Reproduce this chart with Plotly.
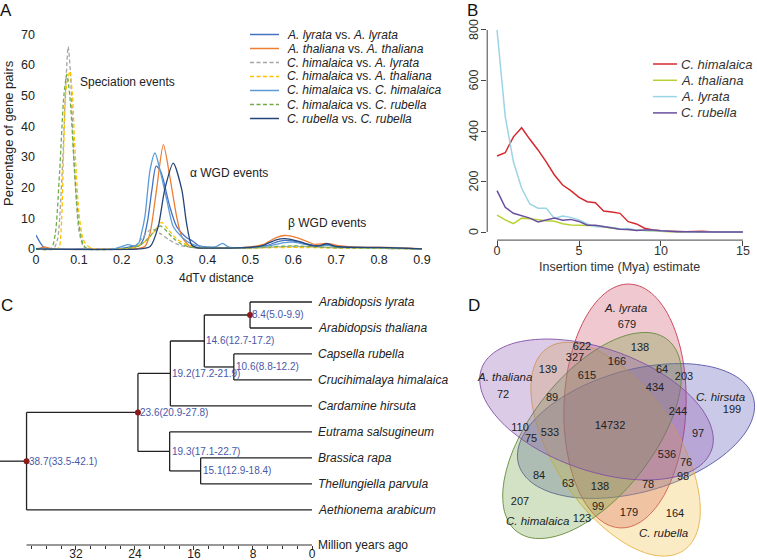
import numpy as np
import plotly.graph_objects as go

W, H = 757, 560
FONT = "Liberation Sans, Arial, sans-serif"

# ---------------- Panel A: 4dTv distributions ----------------
a_names = ["<i>A. lyrata</i> vs. <i>A. lyrata</i>",
           "<i>A. thaliana</i> vs. <i>A. thaliana</i>",
           "<i>C. himalaica</i> vs. <i>A. lyrata</i>",
           "<i>C. himalaica</i> vs. <i>A. thaliana</i>",
           "<i>C. himalaica</i> vs. <i>C. himalaica</i>",
           "<i>C. himalaica</i> vs. <i>C. rubella</i>",
           "<i>C. rubella</i> vs. <i>C. rubella</i>"]
a_colors = ["#4472C4", "#ED7D31", "#A5A5A5", "#FFC000", "#5B9BD5", "#70AD47", "#264478"]
a_dash = ["solid", "solid", "dash", "dash", "solid", "dash", "solid"]

lyr_x = [0, 0.01, 0.02, 0.03, 0.1, 0.2, 0.225, 0.24, 0.25, 0.26, 0.27, 0.28, 0.29, 0.297, 0.312, 0.328,
         0.35, 0.365, 0.38, 0.4, 0.45, 0.5, 0.54, 0.56, 0.58, 0.6, 0.62, 0.65, 0.68, 0.7, 0.75, 0.8, 0.85, 0.9]
lyr_y = [4.5, 2.0, 0.3, 0, 0, 0.2, 0.8, 1.0, 3, 9, 19, 27, 25.5, 22.5, 13.8, 7.3,
         3.8, 2.6, 1.0, 0.6, 0.4, 0.6, 1.2, 2.2, 2.8, 2.6, 2.0, 1.2, 1.3, 0.8, 0.5, 0.4, 0.3, 0]

tha_x = [0, 0.01, 0.02, 0.03, 0.04, 0.2, 0.24, 0.254, 0.266, 0.281, 0.297, 0.312, 0.328, 0.34, 0.359, 0.38,
         0.45, 0.5, 0.53, 0.56, 0.58, 0.608, 0.631, 0.65, 0.678, 0.71, 0.75, 0.8, 0.85, 0.9]
tha_y = [0, 0.3, 0.7, 0.3, 0, 0, 0.2, 0.8, 5.2, 19.3, 34, 23.6, 10.5, 4, 0.8, 0.3,
         0.3, 0.7, 1.5, 3.7, 4.4, 3.7, 2.5, 1.5, 1.8, 1.0, 0.6, 0.5, 0.4, 0]

him_lyr_x = [0, 0.04, 0.05, 0.06, 0.07, 0.075, 0.08, 0.09, 0.1, 0.11, 0.12, 0.2, 0.23, 0.25, 0.27, 0.29,
             0.31, 0.33, 0.36, 0.4, 0.5, 0.6, 0.7, 0.8, 0.9]
him_lyr_y = [0, 0, 3, 22, 55, 66, 58, 25, 6, 1, 0, 0, 0.8, 4, 6.5, 5,
             3, 1.5, 0.5, 0.3, 0.3, 0.8, 0.4, 0.2, 0]

him_tha_x = [0, 0.05, 0.055, 0.06, 0.065, 0.07, 0.079, 0.085, 0.09, 0.1, 0.11, 0.12, 0.13, 0.14, 0.2, 0.23,
             0.26, 0.28, 0.293, 0.31, 0.33, 0.35, 0.37, 0.4, 0.5, 0.6, 0.7, 0.8, 0.9]
him_tha_y = [0, 0, 1, 10, 35, 52, 58, 50, 35, 12, 3, 1, 0.3, 0, 0, 0.5,
             3, 6.5, 8.7, 6, 3, 1.5, 0.6, 0.3, 0.3, 0.5, 0.3, 0.2, 0]

him_him_x = [0, 0.18, 0.2, 0.215, 0.23, 0.24, 0.245, 0.254, 0.266, 0.2775, 0.289, 0.305, 0.32, 0.343, 0.36,
             0.38, 0.4, 0.42, 0.435, 0.45, 0.5, 0.55, 0.575, 0.6, 0.63, 0.66, 0.68, 0.7, 0.75, 0.8, 0.85, 0.9]
him_him_y = [0, 0, 0.8, 1.4, 1.0, 2.0, 4.5, 10.6, 25.8, 31.3, 25.8, 16, 7.3, 3.5, 1.8,
             0.9, 0.6, 0.8, 1.8, 0.6, 0.5, 1.2, 2.0, 2.2, 1.4, 0.9, 1.2, 0.7, 0.5, 0.4, 0.3, 0]

him_rub_x = [0, 0.035, 0.045, 0.055, 0.065, 0.072, 0.08, 0.09, 0.1, 0.11, 0.12, 0.2, 0.24, 0.265, 0.28,
             0.29, 0.3, 0.32, 0.34, 0.36, 0.4, 0.5, 0.55, 0.6, 0.65, 0.7, 0.8, 0.9]
him_rub_y = [0, 0, 5, 25, 50, 57, 48, 25, 8, 1.5, 0, 0, 1, 4, 6.5,
             7.5, 6.5, 3.5, 1.5, 0.6, 0.3, 0.3, 0.7, 1.0, 0.7, 0.4, 0.2, 0]

rub_x = [0, 0.24, 0.266, 0.285, 0.30, 0.32, 0.34, 0.351, 0.363, 0.38, 0.4, 0.45, 0.5, 0.53, 0.56, 0.58,
         0.615, 0.64, 0.66, 0.678, 0.7, 0.75, 0.8, 0.85, 0.9]
rub_y = [0, 0, 0.8, 7.3, 19.3, 28, 19.3, 8.4, 1.3, 0.3, 0.3, 0.3, 0.5, 1.2, 3.0, 3.4,
         2.4, 1.2, 1.0, 1.7, 0.8, 0.5, 0.5, 0.3, 0]

a_series = [(lyr_x, lyr_y), (tha_x, tha_y), (him_lyr_x, him_lyr_y), (him_tha_x, him_tha_y),
            (him_him_x, him_him_y), (him_rub_x, him_rub_y), (rub_x, rub_y)]
a_xticks = [0, 0.1, 0.2, 0.3, 0.4, 0.5, 0.6, 0.7, 0.8, 0.9]
a_xticktext = ["0", "0.1", "0.2", "0.3", "0.4", "0.5", "0.6", "0.7", "0.8", "0.9"]

# ---------------- Panel B: LTR insertion time ----------------
b_names = ["C. himalaica", "A. thaliana", "A. lyrata", "C. rubella"]
b_colors = ["#D42A2E", "#B8D236", "#9BD4E6", "#6A4E9E"]
b_x = [i * 0.5 for i in range(31)]
b_him = [301, 314, 377, 413, 367, 325, 278, 226, 186, 164, 137, 120, 116, 83, 79, 74, 41, 32, 15, 8,
         5, 3, 1, 1, 2, 3, 1, 0, 0, 0, 0]
b_tha = [67, 48, 33, 55, 53, 48, 45, 43, 33, 28, 28, 26, 25, 20, 15, 12, 10, 8, 6, 3,
         2, 1, 1, 0, 0, 0, 0, 0, 0, 0, 0]
b_lyr = [800, 457, 278, 173, 111, 94, 94, 54, 63, 58, 48, 32, 21, 22, 18, 12, 14, 8, 6, 5,
         3, 1, 1, 0, 0, 0, 0, 0, 0, 0, 0]
b_rub = [164, 98, 74, 63, 55, 40, 48, 55, 47, 50, 42, 27, 27, 22, 15, 11, 10, 6, 8, 8,
         5, 2, 1, 1, 0, 0, 0, 0, 0, 0, 0]
b_series = [b_him, b_tha, b_lyr, b_rub]
b_yticks = [0, 200, 400, 600, 800]

# ---------------- Panel C: dated tree ----------------
tips = ["Arabidopsis lyrata", "Arabidopsis thaliana", "Capsella rubella", "Crucihimalaya himalaica",
        "Cardamine hirsuta", "Eutrama salsugineum", "Brassica rapa", "Thellungiella parvula",
        "Aethionema arabicum"]
# node: (age, label, children, dot); children are tip indices or node keys
nodes = {
    "n1": (8.4, "8.4(5.0-9.9)", [0, 1], True),
    "n2": (10.6, "10.6(8.8-12.2)", [2, 3], False),
    "n3": (14.6, "14.6(12.7-17.2)", ["n1", "n2"], False),
    "n4": (19.2, "19.2(17.2-21.9)", ["n3", 4], False),
    "n5": (15.1, "15.1(12.9-18.4)", [6, 7], False),
    "n6": (19.3, "19.3(17.1-22.7)", [5, "n5"], False),
    "n7": (23.6, "23.6(20.9-27.8)", ["n4", "n6"], True),
    "n8": (38.7, "38.7(33.5-42.1)", ["n7", 8], True),
}
c_major = [0, 8, 16, 24, 32]
c_minor = [2, 4, 6, 10, 12, 14, 18, 20, 22, 26, 28, 30, 34, 36, 38]
c_axis_max = 42.3

# ---------------- Panel D: Venn ----------------
venn_sets = ["A. lyrata", "C. hirsuta", "C. rubella", "C. himalaica", "A. thaliana"]
venn_counts = [679, 622, 138, 327, 166, 139, 615, 64, 203, 434, 72, 89, 244, 199, 14732, 110, 533, 75,
               97, 536, 76, 98, 84, 63, 138, 78, 207, 123, 99, 179, 164]

# ---------- layout helpers (pixel -> paper) ----------
def PX(p):
    return p / W

def PY(p):
    return 1 - p / H

fig = go.Figure()

# Panel A traces
for (xs, ys), c, d, n in zip(a_series, a_colors, a_dash, a_names):
    fig.add_trace(go.Scatter(x=xs, y=ys, mode="lines", name=n, xaxis="x", yaxis="y",
                             line=dict(color=c, width=1.3, dash="4px,2.5px" if d == "dash" else "solid",
                                       shape="spline", smoothing=0.7),
                             hoverinfo="skip"))

# Panel B traces
for ys, c, n in zip(b_series, b_colors, b_names):
    fig.add_trace(go.Scatter(x=b_x, y=ys, mode="lines", name=n, xaxis="x2", yaxis="y2",
                             line=dict(color=c, width=1.5), hoverinfo="skip"))

# Panel C tree
def node_y(k):
    if isinstance(k, int):
        return float(k)
    kids = nodes[k][2]
    return (node_y(kids[0]) + node_y(kids[-1])) / 2

def node_age(k):
    return 0.0 if isinstance(k, int) else nodes[k][0]

tx, ty = [], []
for k, (age, lab, kids, dot) in nodes.items():
    ys = [node_y(c) for c in kids]
    tx += [age, age, None]
    ty += [min(ys), max(ys), None]
    for c in kids:
        tx += [age, node_age(c), None]
        ty += [node_y(c), node_y(c), None]
root_y = node_y("n8")
tx += [c_axis_max, nodes["n8"][0]]
ty += [root_y, root_y]
fig.add_trace(go.Scatter(x=tx, y=ty, mode="lines", xaxis="x3", yaxis="y3",
                         line=dict(color="#222222", width=1.3), hoverinfo="skip"))
dot_keys = [k for k in nodes if nodes[k][3]]
fig.add_trace(go.Scatter(x=[nodes[k][0] for k in dot_keys], y=[node_y(k) for k in dot_keys],
                         mode="markers", xaxis="x3", yaxis="y3",
                         marker=dict(color="#8B1A1A", size=6), hoverinfo="skip"))

# Panel D: count positions (pixel space of the venn axes)
venn_pos = [(627, 325), (582, 347), (640, 348), (575, 358), (617, 362), (548, 370), (587, 376),
            (662, 370), (684, 377), (655, 388), (503, 395), (552, 398), (678, 412), (732, 410),
            (610, 426), (520, 428), (550, 433), (531, 439), (698, 434), (667, 455), (686, 463),
            (683, 477), (539, 476), (568, 484), (600, 487), (648, 485), (520, 502), (582, 519),
            (598, 507), (629, 513), (675, 514)]
fig.add_trace(go.Scatter(x=[p[0] for p in venn_pos], y=[p[1] for p in venn_pos], mode="text",
                         text=[str(v) for v in venn_counts], xaxis="x4", yaxis="y4",
                         textfont=dict(size=11, color="#222222", family=FONT), hoverinfo="skip"))

# ellipses: centre x, centre y, major-axis angle (deg), fill, edge
ell = [
    (625.0, 406.0, 87.8, "rgba(205,72,95,0.30)", "rgba(200,60,80,0.9)"),
    (636.0, 431.0, 15.8, "rgba(80,80,180,0.30)", "rgba(85,85,170,0.9)"),
    (615.6, 449.2, -56.2, "rgba(242,188,62,0.30)", "rgba(230,180,70,0.9)"),
    (592.1, 435.5, -128.2, "rgba(110,160,60,0.30)", "rgba(100,140,60,0.9)"),
    (596.5, 409.5, 160.5, "rgba(138,82,172,0.30)", "rgba(130,80,165,0.9)"),
]
shapes = []
t = np.linspace(0, 2 * np.pi, 120)
for cx, cy, ang, fc, lc in ell:
    th = np.radians(ang)
    ex = cx + 122 * np.cos(t) * np.cos(th) - 61 * np.sin(t) * np.sin(th)
    ey = cy - (122 * np.cos(t) * np.sin(th) + 61 * np.sin(t) * np.cos(th))
    path = "M " + " L ".join(f"{a:.1f},{b:.1f}" for a, b in zip(ex, ey)) + " Z"
    shapes.append(dict(type="path", path=path, xref="x4", yref="y4", fillcolor=fc,
                       line=dict(color=lc, width=1), layer="below"))

# panel B axis lines (R style)
shapes.append(dict(type="line", xref="x2", yref="paper", x0=0, x1=15, y0=PY(240.1), y1=PY(240.1),
                   line=dict(color="#444", width=1)))
shapes.append(dict(type="line", xref="paper", yref="y2", x0=PX(487.2), x1=PX(487.2), y0=0, y1=800,
                   line=dict(color="#444", width=1)))
# panel C time axis line
shapes.append(dict(type="line", xref="x3", yref="paper", x0=nodes["n8"][0], x1=0, y0=PY(545), y1=PY(545),
                   line=dict(color="#333", width=1)))

# legend swatches (A and B)
for i, (c, d) in enumerate(zip(a_colors, a_dash)):
    yy = PY(34.5 + 14 * i)
    shapes.append(dict(type="line", xref="paper", yref="paper", x0=PX(250), x1=PX(279), y0=yy, y1=yy,
                       line=dict(color=c, width=1.5, dash="4px,2.5px" if d == "dash" else "solid")))
for i, c in enumerate(b_colors):
    yy = PY(64 + 16.3 * i)
    shapes.append(dict(type="line", xref="paper", yref="paper", x0=PX(653), x1=PX(677), y0=yy, y1=yy,
                       line=dict(color=c, width=1.5)))

anns = []

def ann(text, px, py, size, xanchor="left", color="#222222", angle=0, **kw):
    anns.append(dict(text=text, x=PX(px), y=PY(py), xref="paper", yref="paper", showarrow=False,
                     xanchor=xanchor, yanchor="middle", textangle=angle,
                     font=dict(size=size, color=color, family=FONT), **kw))

# panel letters
ann("A", 6, 10, 17, "center", "#111")
ann("B", 472, 10, 17, "center", "#111")
ann("C", 7, 306, 17, "center", "#111")
ann("D", 474, 306, 17, "center", "#111")

# panel A texts
ann("Speciation events", 78, 82, 12)
ann("α WGD events", 188, 173, 12)
ann("β WGD events", 327, 223, 12, "center")
ann("4dTv distance", 217, 278, 12, "center")
ann("Percentage of gene pairs", 8, 133, 13, "center", angle=-90)
for i, n in enumerate(a_names):
    ann(n, 285, 34.5 + 14 * i, 12)

# panel B texts
ann("Insertion time (Mya) estimate", 619, 267, 12.5, "center", "#333")
for i, n in enumerate(b_names):
    ann("<i>" + n + "</i>", 679, 64 + 16.3 * i, 13, color="#333")
for v in b_yticks:
    anns.append(dict(text=str(v), x=PX(474), y=v, xref="paper", yref="y2", showarrow=False,
                     xanchor="center", yanchor="middle", textangle=-90,
                     font=dict(size=12.5, color="#333", family=FONT)))

# panel C texts
for i, n in enumerate(tips):
    anns.append(dict(text="<i>" + n + "</i>", x=0, y=i, xref="x3", yref="y3", xanchor="left",
                     yanchor="middle", xshift=4, showarrow=False,
                     font=dict(size=12, color="#222", family=FONT)))
for k, (age, lab, kids, dot) in nodes.items():
    anns.append(dict(text=lab, x=age, y=node_y(k), xref="x3", yref="y3", xanchor="left",
                     yanchor="middle", xshift=0, showarrow=False,
                     font=dict(size=10, color="#4A58A8", family=FONT)))
ann("Million years ago", 316, 545, 12)

# panel D set labels
venn_label_pos = [(625, 308), (720, 397), (663, 533), (537, 521), (504, 377)]
for n, (px, py) in zip(venn_sets, venn_label_pos):
    anns.append(dict(text="<i>" + n + "</i>", x=px, y=py, xref="x4", yref="y4", showarrow=False,
                     xanchor="center", yanchor="middle",
                     font=dict(size=11.5, color="#222", family=FONT)))

noax = dict(showgrid=False, zeroline=False, showline=False, automargin=False)
fig.update_layout(
    template="none",
    width=W, height=H, margin=dict(l=0, r=0, t=0, b=0, pad=0),
    paper_bgcolor="white", plot_bgcolor="rgba(0,0,0,0)", showlegend=False,
    font=dict(family=FONT, color="#222"),
    xaxis=dict(domain=[PX(36), PX(422)], range=[0, 0.9], tickvals=a_xticks, ticktext=a_xticktext,
               ticks="", tickfont=dict(size=12.5, color="#222"), anchor="y", **noax),
    yaxis=dict(domain=[PY(250.5), PY(28.2)], range=[-0.5, 72], tickvals=list(range(0, 80, 10)),
               ticks="", tickfont=dict(size=12.5, color="#222"), anchor="x", **noax),
    xaxis2=dict(domain=[PX(487.2), PX(752.8)], range=[-0.6, 15.6], tickvals=[0, 5, 10, 15],
                ticks="outside", ticklen=5, tickcolor="#444", tickfont=dict(size=12.5, color="#333"),
                ticklabelstandoff=-6, anchor="y2", **noax),
    yaxis2=dict(domain=[PY(240.1), PY(21.9)], range=[-32, 832], tickvals=b_yticks,
                ticks="outside", ticklen=5, tickcolor="#444", showticklabels=False,
                anchor="x2", **noax),
    xaxis3=dict(domain=[0, PX(312)], range=[c_axis_max, 0], tickvals=c_major,
                ticktext=[str(v) for v in c_major], ticks="outside", ticklen=4, tickcolor="#333",
                minor=dict(tickvals=c_minor, ticks="outside", ticklen=3, tickcolor="#333"),
                tickfont=dict(size=12, color="#222"), ticklabelstandoff=-6, anchor="y3", **noax),
    yaxis3=dict(domain=[PY(545), PY(289)], range=[9.35, -0.5], showticklabels=False, ticks="",
                anchor="x3", **noax),
    xaxis4=dict(domain=[PX(465), 1], range=[465, 757], visible=False, anchor="y4", **noax),
    yaxis4=dict(domain=[0, PY(270)], range=[560, 270], visible=False, anchor="x4", **noax),
    shapes=shapes, annotations=anns,
)

# page body margin would offset the 757x560 figure inside the window
fig.write_html("out.html", config={"displayModeBar": False},
               post_script="document.body.style.margin='0';")
